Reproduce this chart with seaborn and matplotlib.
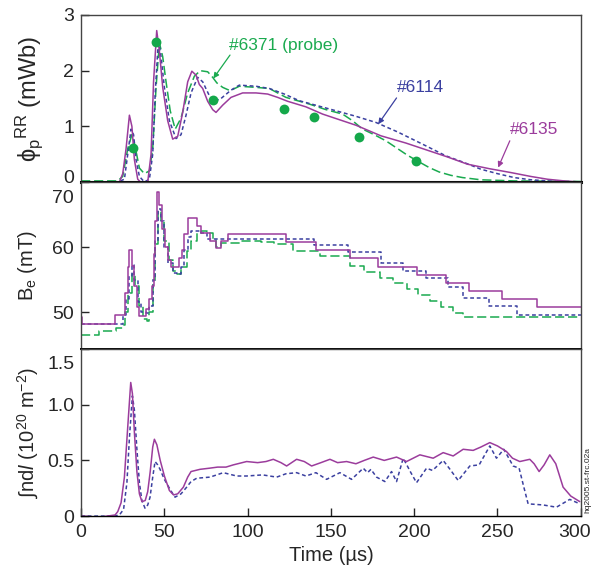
import pandas as pd
import seaborn as sns
import matplotlib.pyplot as plt
from matplotlib.transforms import ScaledTranslation

# colours
GREEN = '#1aaa4f'
MAGENTA = '#9b3c9c'
BLUE = '#3b40a0'

# ---- top panel: poloidal flux phi_p^RR (mWb)
phi_t_6135 = [0, 20, 23, 25, 27, 29, 30.5, 32, 34, 37, 40, 42, 43.5, 45.4, 47, 49, 52, 55, 58, 61, 64, 66.5, 69, 71,
              73, 76, 79, 81, 85, 90, 97, 105, 112, 118, 124, 135, 145, 155, 165, 180, 195, 205, 220, 232, 245, 258,
              270, 280, 290, 300]
phi_6135 = [-0.02, -0.02, 0.0, 0.15, 0.6, 1.2, 1.0, 0.4, 0.05, -0.04, 0.0, 0.5, 1.8, 2.72, 2.35, 1.7, 1.1, 0.77,
            0.82, 1.25, 1.8, 1.99, 1.92, 1.75, 1.68, 1.45, 1.3, 1.25, 1.38, 1.52, 1.6, 1.6, 1.58, 1.52, 1.45, 1.35,
            1.22, 1.12, 1.02, 0.83, 0.7, 0.6, 0.45, 0.32, 0.24, 0.17, 0.1, 0.05, 0.02, 0.0]

phi_t_6114 = [0, 22, 26, 28, 30, 31.5, 33, 35, 38, 41, 43, 44.5, 46.4, 48, 50, 53, 57, 60, 63, 66, 70, 73, 77, 80, 84,
              90, 95, 105, 113, 122, 131, 142, 153, 165, 177, 190, 205, 219, 230, 240, 250, 260, 270, 285, 300]
phi_6114 = [0, 0, 0.05, 0.5, 0.95, 0.85, 0.4, 0.1, 0.0, 0.05, 0.5, 1.6, 2.55, 2.25, 1.7, 1.1, 0.78, 0.85, 1.2, 1.6,
            1.88, 1.8, 1.55, 1.45, 1.5, 1.65, 1.74, 1.72, 1.68, 1.58, 1.46, 1.37, 1.28, 1.18, 1.07, 0.9, 0.68, 0.47,
            0.35, 0.23, 0.15, 0.08, 0.04, 0.01, 0.0]

phi_t_6371 = [0, 22, 25, 28, 30.5, 32, 35, 38, 41, 43, 45, 47, 49, 51, 53.5, 56.5, 60, 64, 68, 71.5, 76, 79, 81.5, 85,
              89.5, 95, 105, 113, 118, 123, 130, 137, 147, 157, 163, 169, 176, 183, 189, 196, 203, 209, 215, 222, 229,
              240, 260, 300]
phi_6371 = [0.02, 0.02, 0.1, 0.6, 0.85, 0.7, 0.25, 0.15, 0.2, 0.6, 1.7, 2.5, 2.25, 1.8, 1.28, 0.95, 1.15, 1.6, 1.9,
            2.0, 1.98, 1.88, 1.78, 1.7, 1.64, 1.72, 1.7, 1.68, 1.6, 1.52, 1.46, 1.4, 1.3, 1.22, 1.1, 0.95, 0.85, 0.74,
            0.62, 0.48, 0.36, 0.26, 0.18, 0.12, 0.08, 0.04, 0.02, 0.01]

probe_t = [31.2, 45, 79.2, 121.8, 139.8, 166.8, 201]
probe_phi = [0.61, 2.51, 1.48, 1.32, 1.17, 0.81, 0.38]

# ---- middle panel: external field Be (mT), stepped signals
be_t_6135 = [0, 0.5, 20.5, 25, 26.5, 28, 29, 30.5, 32, 33.5, 35, 39, 41, 42.4, 43.5, 44.5, 45.4, 47, 48.5, 50.5, 52,
             54, 59, 60.4, 62, 64.4, 69.4, 72, 77.4, 81, 84, 88, 123, 141, 161.5, 178.5, 201.5, 219, 233, 253, 274, 300]
be_6135 = [49.3, 48.2, 49.5, 49.5, 53, 57, 59.6, 57.1, 54, 50.7, 49.4, 50.4, 52, 54, 59, 64, 68.5, 66.5, 62.7, 60, 58,
           57, 58.3, 59.6, 62, 64.5, 63.2, 62.2, 60.9, 59.9, 60.9, 62.0, 60.8, 59.5, 58.3, 57.0, 55.7, 54.5, 53.3, 52.0,
           50.7, 50.7]

be_t_6114 = [0, 22, 25, 27, 29, 30.4, 32, 34, 36, 39, 41, 43, 44.5, 46.4, 48, 50, 52, 55, 57.4, 60, 62, 64, 66, 72,
             75.4, 80, 120, 140, 160, 180, 193, 207, 220, 229, 245, 262, 300]
be_6114 = [48.2, 48.2, 49.5, 52, 55.5, 57.3, 55, 51.5, 50, 49.9, 51, 55, 61, 65.8, 64, 60, 57.5, 56, 55.8, 57, 59.5,
           61.5, 62.5, 62.2, 61.2, 61.3, 61.2, 60.3, 59.2, 57.5, 56.3, 55.3, 53.8, 52.2, 50.9, 49.6, 49.6]

be_t_6371 = [0, 10.5, 21, 25, 26.5, 28, 30.4, 32.5, 34.5, 37, 39.4, 41, 43, 44.5, 46.4, 48, 50, 52.5, 55, 57.4, 60,
             63.4, 66, 69.4, 72, 75.4, 79.4, 81, 84, 96, 108, 116, 127.4, 143.4, 161.4, 170, 179.4, 187, 195.4, 202,
             209.4, 216, 223.4, 229.4, 300]
be_6371 = [46.5, 47.1, 47.5, 48, 50, 53, 55.8, 54, 51, 49, 48.6, 50, 55, 60.5, 65.5, 64, 61, 58, 56.3, 55.8, 57, 59.4,
           61, 62.2, 62.5, 62.2, 61.2, 60.0, 60.6, 60.9, 60.7, 60.4, 59.4, 58.6, 57.1, 56.2, 55.3, 54.4, 53.5, 52.6,
           51.7, 50.8, 49.9, 49.2, 49.2]

# ---- bottom panel: line-integrated density (1e20 m^-2)
nl_t_6135 = [0, 11, 20.4, 22, 24, 26, 28, 29.8, 30.8, 32, 33.5, 35, 36.5, 38.5, 40, 41.5, 43, 44, 45.5, 47.5, 50, 53,
             55.5, 58, 61.4, 64, 66, 71.4, 77, 82, 87, 91.4, 99.4, 106, 111, 115.4, 120, 123.4, 129.4, 134, 138.4, 144,
             149.4, 154, 159.4, 165, 170, 175.4, 182, 189.4, 195.4, 203.4, 211.4, 217.4, 223.4, 229.4, 235.4, 240,
             245.4, 250, 255.4, 259, 263.4, 269.4, 272, 275, 278, 281.4, 285, 289.4, 294, 299.4]
nl_6135 = [0.0, -0.01, 0.01, 0.04, 0.12, 0.35, 0.8, 1.2, 1.1, 0.75, 0.4, 0.2, 0.13, 0.14, 0.22, 0.4, 0.62, 0.69, 0.64,
           0.5, 0.36, 0.23, 0.19, 0.2, 0.26, 0.35, 0.4, 0.42, 0.43, 0.44, 0.44, 0.46, 0.49, 0.48, 0.49, 0.51, 0.48,
           0.45, 0.51, 0.49, 0.45, 0.48, 0.51, 0.48, 0.49, 0.47, 0.5, 0.53, 0.5, 0.53, 0.49, 0.55, 0.52, 0.57, 0.54,
           0.6, 0.59, 0.62, 0.66, 0.63, 0.58, 0.52, 0.49, 0.51, 0.47, 0.4, 0.46, 0.55, 0.47, 0.26, 0.18, 0.13]

nl_t_6114 = [0, 20, 23, 25.5, 27.5, 29, 30.8, 32, 33.5, 35, 36.5, 38.4, 40, 41.4, 43, 44.4, 46, 47.4, 50, 53.4, 56.4,
             60, 63.4, 66, 69.4, 77.4, 85.4, 93.4, 99.4, 109, 117.4, 123, 129.4, 135, 141, 147.4, 155.4, 162.4, 169.4,
             172, 174, 177.4, 182.4, 186.4, 189.4, 193.4, 198, 201.4, 207.4, 211, 217.4, 221, 226.4, 233.4, 239, 245.4,
             249.4, 253.8, 259.4, 263, 266, 268.4, 277.4, 285.4, 293.4, 299.4]
nl_6114 = [0, 0, 0.01, 0.06, 0.3, 0.7, 1.08, 0.95, 0.6, 0.3, 0.14, 0.07, 0.1, 0.17, 0.35, 0.49, 0.46, 0.42, 0.33,
           0.24, 0.17, 0.2, 0.26, 0.31, 0.34, 0.35, 0.39, 0.36, 0.36, 0.37, 0.35, 0.38, 0.39, 0.36, 0.39, 0.33, 0.39,
           0.33, 0.43, 0.39, 0.42, 0.35, 0.31, 0.4, 0.31, 0.52, 0.39, 0.3, 0.43, 0.41, 0.5, 0.43, 0.32, 0.45, 0.46,
           0.63, 0.52, 0.6, 0.45, 0.43, 0.25, 0.11, 0.1, 0.08, 0.15, 0.11]

time_ticks = [0, 50, 100, 150, 200, 250, 300]

sns.set_style('ticks')
plt.rcParams['font.family'] = ['Liberation Sans', 'DejaVu Sans']
plt.rcParams['mathtext.fontset'] = 'custom'
plt.rcParams['mathtext.rm'] = 'Liberation Sans'
plt.rcParams['mathtext.it'] = 'Liberation Sans:italic'
plt.rcParams['mathtext.sf'] = 'Liberation Sans'
plt.rcParams['mathtext.fallback'] = 'stixsans'
plt.rcParams['xtick.direction'] = 'in'
plt.rcParams['ytick.direction'] = 'in'

fig, axes = plt.subplots(3, 1, figsize=(5.92, 5.76), dpi=100, sharex=True)
fig.subplots_adjust(left=0.137, right=0.981, top=0.974, bottom=0.104, hspace=0)
ax1, ax2, ax3 = axes

solid = dict(lw=1.1, linestyle='-')
blue_dash = dict(lw=1.1, linestyle=(0, (2.5, 1.8)))
green_dash = dict(lw=1.1, linestyle=(0, (6, 2.5)))

# top
sns.lineplot(x=phi_t_6371, y=phi_6371, ax=ax1, color=GREEN, estimator=None, **green_dash)
sns.lineplot(x=phi_t_6114, y=phi_6114, ax=ax1, color=BLUE, estimator=None, **blue_dash)
sns.lineplot(x=phi_t_6135, y=phi_6135, ax=ax1, color=MAGENTA, estimator=None, **solid)
sns.scatterplot(x=probe_t, y=probe_phi, ax=ax1, color='#14a84a', s=50, linewidth=0, zorder=5)

arrow = dict(arrowstyle='-|>', lw=0.9, mutation_scale=8, shrinkA=0, shrinkB=0)
ax1.text(88.8, 2.46, '#6371 (probe)', color=GREEN, fontsize=12.5, ha='left', va='center')
ax1.annotate('', xy=(79.4, 1.86), xytext=(89.4, 2.28), arrowprops=dict(color=GREEN, **arrow))
ax1.text(189.6, 1.70, '#6114', color=BLUE, fontsize=12.5, ha='left', va='center')
ax1.annotate('', xy=(178.4, 1.04), xytext=(189.4, 1.51), arrowprops=dict(color=BLUE, **arrow))
ax1.text(257.4, 0.94, '#6135', color=MAGENTA, fontsize=12.5, ha='left', va='center')
ax1.annotate('', xy=(250.4, 0.26), xytext=(257.4, 0.74), arrowprops=dict(color=MAGENTA, **arrow))

ax1.set_ylim(0, 3)
ax1.set_yticks([0, 1, 2, 3])
ax1.set_yticklabels(['0', '1', '2', '3'])
ax1.set_ylabel('ϕ$_{\\rm p}$$^{\\rm RR}$ (mWb)', fontsize=17)

# middle
sns.lineplot(x=be_t_6371, y=be_6371, ax=ax2, color=GREEN, estimator=None, drawstyle='steps-post', **green_dash)
sns.lineplot(x=be_t_6114, y=be_6114, ax=ax2, color=BLUE, estimator=None, drawstyle='steps-post', **blue_dash)
sns.lineplot(x=be_t_6135, y=be_6135, ax=ax2, color=MAGENTA, estimator=None, drawstyle='steps-post', **solid)
ax2.set_ylim(44.3, 70)
ax2.set_yticks([50, 60, 70])
ax2.set_yticklabels(['50', '60', '70'])
ax2.set_ylabel(r'B$_{\rm e}$ (mT)', fontsize=14.5)

# bottom
sns.lineplot(x=nl_t_6114, y=nl_6114, ax=ax3, color=BLUE, estimator=None, **blue_dash)
sns.lineplot(x=nl_t_6135, y=nl_6135, ax=ax3, color=MAGENTA, estimator=None, **solid)
ax3.set_ylim(0, 1.5)
ax3.set_yticks([0, 0.5, 1.0, 1.5])
ax3.set_yticklabels(['0', '0.5', '1.0', '1.5'])
ax3.set_ylabel(r'∫nd$\it{l}$ (10$^{20}$ m$^{-2}$)', fontsize=14.5)

ax3.set_xlim(0, 300)
ax3.set_xticks(time_ticks)
ax3.set_xticklabels([str(t) for t in time_ticks])
ax3.set_xlabel('Time (µs)', fontsize=14.5, labelpad=3)

for ax in axes:
    ax.tick_params(axis='y', labelsize=14, length=6, width=1, pad=5)
    ax.tick_params(axis='x', labelsize=14, length=6, width=1, pad=6)
    for s in ax.spines.values():
        s.set_visible(True)
        s.set_color('#444444')
        s.set_linewidth(1.0)
ax1.yaxis.set_label_coords(-0.072, 0.5)
ax2.yaxis.set_label_coords(-0.085, 0.5)
ax3.yaxis.set_label_coords(-0.081, 0.5)
ax1.tick_params(axis='x', bottom=False)
ax2.tick_params(axis='x', bottom=False)
ax1.spines['bottom'].set_color('black')
ax1.spines['bottom'].set_linewidth(2.2)
ax2.spines['bottom'].set_color('black')
ax2.spines['bottom'].set_linewidth(1.4)
ax3.spines['bottom'].set_color('black')


def nudge(label, dx_px, dy_px):
    off = ScaledTranslation(dx_px / 100, dy_px / 100, fig.dpi_scale_trans)
    label.set_transform(label.get_transform() + off)


# edge tick labels pushed inside the panel, as in the original
nudge(ax1.get_yticklabels()[0], 0, 6)
nudge(ax2.get_yticklabels()[-1], 0, -14)
nudge(ax3.get_yticklabels()[-1], 0, -13)
nudge(ax3.get_xticklabels()[-1], -6, 0)

fig.text(0.993, 1 - 513 / 576, 'hq2005.st-frc.02a', rotation=90, fontsize=6, ha='center', va='bottom')

fig.savefig('out.png', dpi=100)
